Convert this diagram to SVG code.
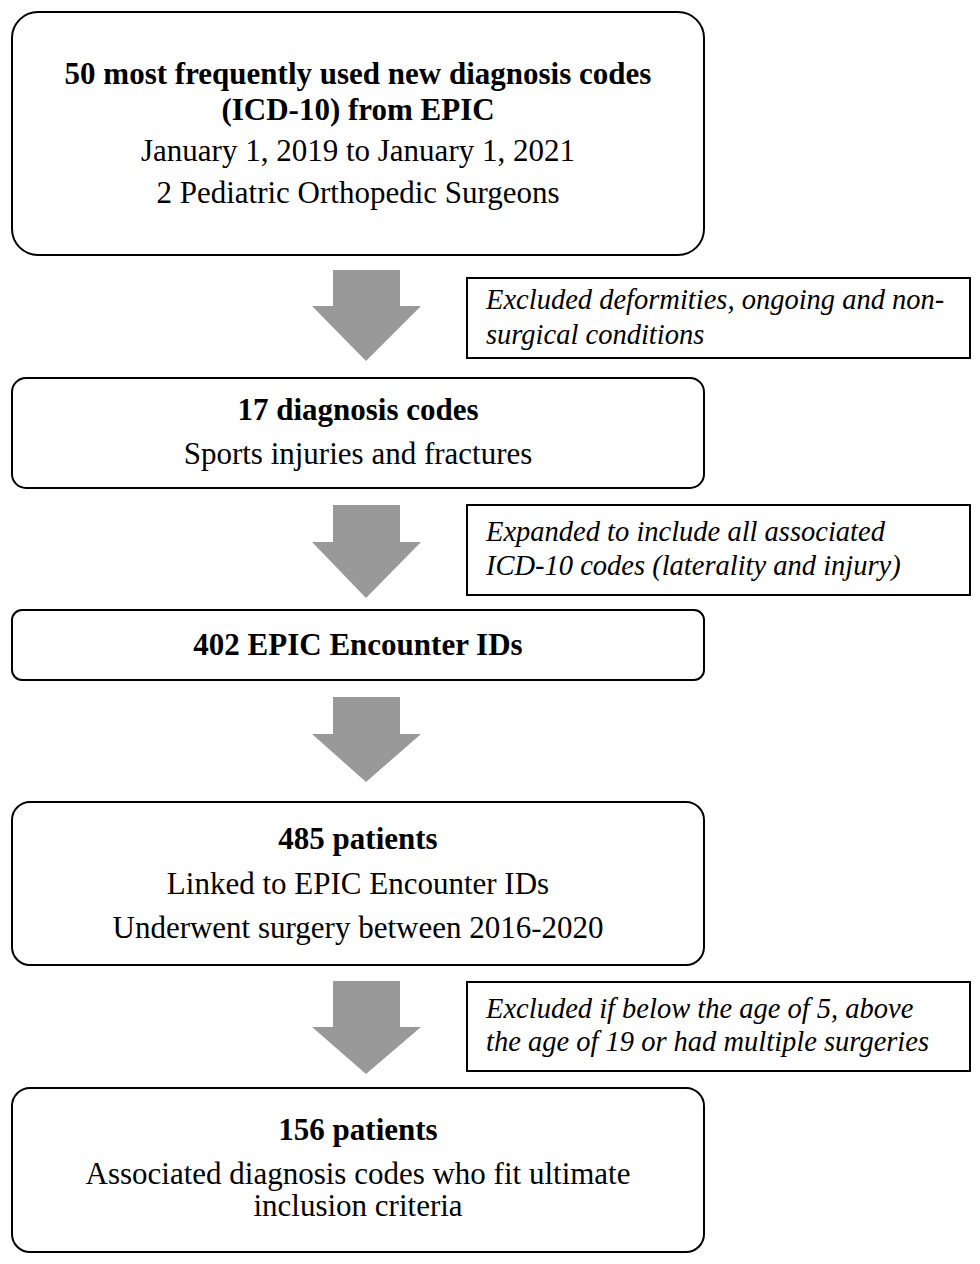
<svg xmlns="http://www.w3.org/2000/svg" width="980" height="1264" viewBox="0 0 980 1264">
<style>
.box{fill:#fff;stroke:#000;stroke-width:2}
.side{fill:#fff;stroke:#000;stroke-width:2}
.t{font-family:"Liberation Serif","Times New Roman",serif;font-size:31px;fill:#000;text-anchor:middle}
.b{font-weight:bold}
.i{font-family:"Liberation Serif","Times New Roman",serif;font-size:28.5px;font-style:italic;fill:#000}
.arr{fill:#999}
</style>
<rect width="980" height="1264" fill="#fff"/>
<g id="connectors">
<polygon class="arr" points="333,270 400,270 400,306 421,306 366,361 312,306 333,306"/>
<polygon class="arr" points="333,505 400,505 400,542 421,542 366,598 312,542 333,542"/>
<polygon class="arr" points="333,697 400,697 400,734 421,734 366,782 312,734 333,734"/>
<polygon class="arr" points="333,981 400,981 400,1027 421,1027 366,1074 312,1027 333,1027"/>
</g>
<g id="n1">
<rect class="box" x="12" y="12" width="692" height="243" rx="26"/>
<text class="t b" x="358" y="84">50 most frequently used new diagnosis codes</text>
<text class="t b" x="358" y="120">(ICD-10) from EPIC</text>
<text class="t" x="358" y="161">January 1, 2019 to January 1, 2021</text>
<text class="t" x="358" y="203">2 Pediatric Orthopedic Surgeons</text>
</g>
<g id="s1">
<rect class="side" x="467" y="278" width="503" height="80"/>
<text class="i" x="486" y="309">Excluded deformities, ongoing and non-</text>
<text class="i" x="486" y="344">surgical conditions</text>
</g>
<g id="n2">
<rect class="box" x="12" y="378" width="692" height="110" rx="14"/>
<text class="t b" x="358" y="420">17 diagnosis codes</text>
<text class="t" x="358" y="464">Sports injuries and fractures</text>
</g>
<g id="s2">
<rect class="side" x="467" y="505" width="503" height="90"/>
<text class="i" x="486" y="541">Expanded to include all associated</text>
<text class="i" x="486" y="575">ICD-10 codes (laterality and injury)</text>
</g>
<g id="n3">
<rect class="box" x="12" y="610" width="692" height="70" rx="10"/>
<text class="t b" x="358" y="655">402 EPIC Encounter IDs</text>
</g>
<g id="n4">
<rect class="box" x="12" y="802" width="692" height="163" rx="18"/>
<text class="t b" x="358" y="849">485 patients</text>
<text class="t" x="358" y="894">Linked to EPIC Encounter IDs</text>
<text class="t" x="358" y="938">Underwent surgery between 2016-2020</text>
</g>
<g id="s3">
<rect class="side" x="467" y="982" width="503" height="89"/>
<text class="i" x="486" y="1018">Excluded if below the age of 5, above</text>
<text class="i" x="486" y="1051">the age of 19 or had multiple surgeries</text>
</g>
<g id="n5">
<rect class="box" x="12" y="1088" width="692" height="164" rx="18"/>
<text class="t b" x="358" y="1140">156 patients</text>
<text class="t" x="358" y="1184">Associated diagnosis codes who fit ultimate</text>
<text class="t" x="358" y="1216">inclusion criteria</text>
</g>
</svg>
